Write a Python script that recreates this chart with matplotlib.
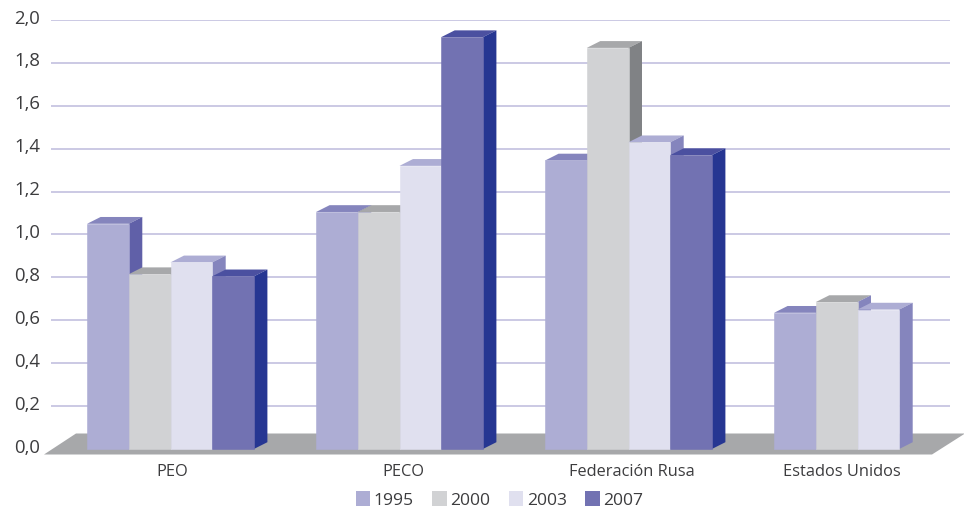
import matplotlib
matplotlib.use('Agg')
import matplotlib.pyplot as plt
from matplotlib.patches import Patch, Polygon
from matplotlib.transforms import ScaledTranslation

categories = ['PEO', 'PECO', 'Federación Rusa', 'Estados Unidos']
years = ['1995', '2000', '2003', '2007']
v1995 = [1.05, 1.105, 1.345, 0.635]
v2000 = [0.815, 1.105, 1.87, 0.685]
v2003 = [0.87, 1.32, 1.43, 0.65]
v2007 = [0.805, 1.92, 1.37]
yticks = [0.0, 0.2, 0.4, 0.6, 0.8, 1.0, 1.2, 1.4, 1.6, 1.8, 2.0]

W, H = 964, 511
# front face, top face, side face for each year
colors = [('#ADADD4', '#8585BD', '#6060A8'),
          ('#D1D2D4', '#A7A8AA', '#808285'),
          ('#E0E0EF', '#ADADD4', '#8585BD'),
          ('#7272B2', '#4B50A0', '#263692')]
series = [v1995, v2000, v2003, v2007]

plt.rcParams['font.family'] = ['Open Sans', 'DejaVu Sans']
text_color = '#3C3C3E'

fig = plt.figure(figsize=(W / 100, H / 100), dpi=100)
ax = fig.add_axes([51 / W, (H - 449) / H, (950 - 51) / W, (449 - 20) / H])

group_px = 229.0
ax.set_xlim((51 - 170.5) / group_px, (950 - 170.5) / group_px)
ax.set_ylim(0, 2)
for s in ax.spines.values():
    s.set_visible(False)

bar_w = 41.7 / group_px
dx = 13.5 / group_px
dy = 6.8 / 214.5

for t in yticks[1:]:
    ax.axhline(t, color='#BDBBDD', lw=1.1, zorder=1)

# floor slab under the bars, extends below the zero line
px_x = lambda p: (p - 170.5) / group_px
px_y = lambda p: (449 - p) / 214.5
floor = Polygon([(px_x(44), px_y(454.5)), (px_x(76), px_y(433.5)), (px_x(965), px_y(433.5)),
                 (px_x(932), px_y(454.5))], closed=True, fc='#A7A8AA', ec='none',
                zorder=2, clip_on=False)
ax.add_patch(floor)

z = 3
for g in range(len(categories)):
    for k, vals in enumerate(series):
        if g >= len(vals):
            continue
        h = vals[g]
        x0 = g + (k - 2) * bar_w
        x1 = x0 + bar_w
        front, top, side = colors[k]
        # the grey bar of the last group has a purple side
        if g == 3 and k == 1:
            side = '#8585BD'
        ax.add_patch(Polygon([(x0, h), (x0 + dx, h + dy), (x1 + dx, h + dy), (x1, h)],
                             closed=True, fc=top, ec='none', zorder=z, clip_on=False))
        ax.add_patch(Polygon([(x1, 0), (x1 + dx, dy), (x1 + dx, h + dy), (x1, h)],
                             closed=True, fc=side, ec='none', zorder=z, clip_on=False))
        ax.bar(x0, h, width=bar_w, align='edge', color=front, ec=front, lw=0.4,
               zorder=z, clip_on=False)
        z += 1

ax.set_yticks(yticks)
ax.set_yticklabels([('%.1f' % t).replace('.', ',') for t in yticks])
# last group has only three bars, so its label sits further left
ax.set_xticks([px_x(172), px_x(403.5), px_x(632), px_x(841.5)])
ax.set_xticklabels(categories)
ax.tick_params(axis='both', length=0, labelcolor=text_color)
ax.tick_params(axis='y', labelsize=13.3, pad=8)
ax.tick_params(axis='x', labelsize=11.8, pad=10.5)
# y labels sit slightly above their grid lines
shift = ScaledTranslation(0, 2.5 / 72, fig.dpi_scale_trans)
for lab in ax.get_yticklabels():
    lab.set_transform(lab.get_transform() + shift)

handles = [Patch(fc=c[0], ec='none', label=y) for c, y in zip(colors, years)]
ax.legend(handles=handles, ncol=4, loc='center', bbox_to_anchor=(499.5 / W, (H - 500) / H),
          bbox_transform=fig.transFigure, frameon=False, fontsize=12.6, labelcolor=text_color,
          handlelength=0.82, handleheight=0.9, handletextpad=0.2, columnspacing=1.06,
          borderpad=0, borderaxespad=0)

fig.savefig('out.png', dpi=100)
